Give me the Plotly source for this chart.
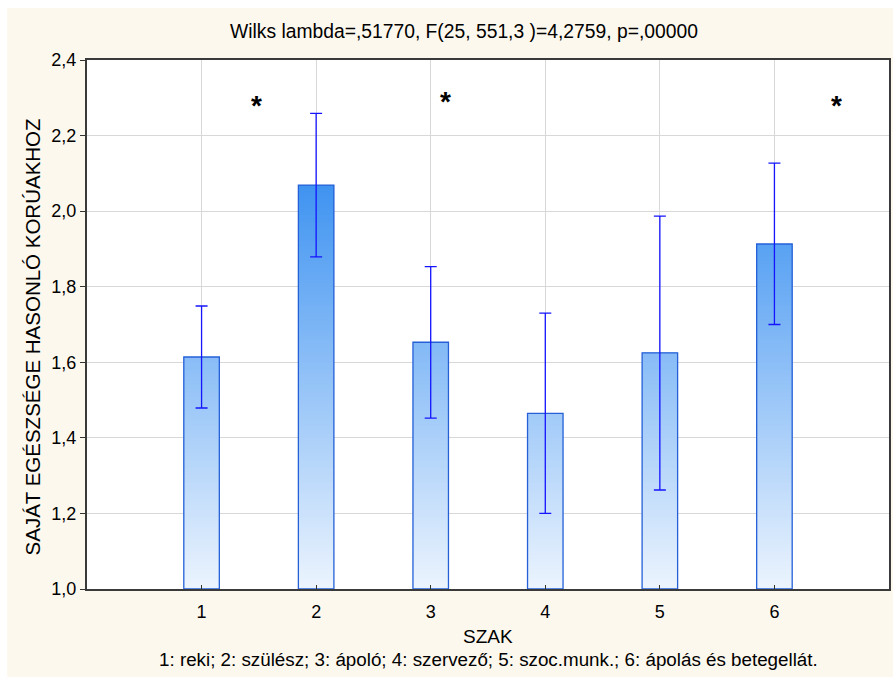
import plotly.graph_objects as go
import numpy as np

# ---- data ----
categories = [1, 2, 3, 4, 5, 6]
means = [1.614, 2.069, 1.653, 1.465, 1.625, 1.913]
ci_upper = [1.749, 2.259, 1.853, 1.730, 1.987, 2.127]
ci_lower = [1.479, 1.879, 1.452, 1.200, 1.262, 1.700]
y_ticks = [1.0, 1.2, 1.4, 1.6, 1.8, 2.0, 2.2, 2.4]
star_x = [1.48, 3.13, 6.54]
star_y = [2.28, 2.29, 2.28]

title_text = "Wilks lambda=,51770, F(25, 551,3 )=4,2759, p=,00000"
y_title = "SAJÁT EGÉSZSÉGE HASONLÓ KORÚAKHOZ"
x_title = "SZAK"
legend_text = "1: reki; 2: szülész; 3: ápoló; 4: szervező; 5: szoc.munk.; 6: ápolás és betegellát."

FONT = "Arial, Liberation Sans, sans-serif"
BAR_W = 0.31
Y0, Y1 = 1.0, 2.4

def grad_color(level):
    lo = np.array([236, 244, 254])
    hi = np.array([50, 140, 240])
    t = (level - 1.0) / (2.15 - 1.0)
    t = min(max(t, 0), 1)
    c = lo + (hi - lo) * t
    return "rgb(%d,%d,%d)" % tuple(c.round().astype(int))

fig = go.Figure()

# gradient fill via overlapping thin slices (later slices cover earlier overlap)
step = 0.01
levels = np.arange(Y0, Y1, step)
for lv in levels:
    heights = [max(0.0, min(3 * step, m - lv)) for m in means]
    if max(heights) <= 0:
        continue
    fig.add_trace(go.Bar(
        x=categories, y=heights, base=[lv] * len(categories),
        width=BAR_W, marker=dict(color=grad_color(lv + step / 2), line=dict(width=0)),
        showlegend=False, hoverinfo="skip"))

# outline + error bars
err_plus = [u - m for u, m in zip(ci_upper, means)]
err_minus = [m - l for m, l in zip(means, ci_lower)]
fig.add_trace(go.Bar(
    x=categories, y=[m - Y0 for m in means], base=[Y0] * len(categories),
    width=BAR_W,
    marker=dict(color="rgba(0,0,0,0)", line=dict(color="#2560d8", width=1.3)),
    showlegend=False))
fig.add_trace(go.Scatter(
    x=categories, y=means, mode="markers",
    marker=dict(size=1, color="rgba(0,0,0,0)"),
    error_y=dict(type="data", symmetric=False, array=err_plus, arrayminus=err_minus,
                 color="#1414ff", thickness=1.3, width=6),
    showlegend=False))

fig.update_layout(
    width=893, height=677,
    margin=dict(l=87, r=2, t=60, b=88),
    paper_bgcolor="#fdf8ee", plot_bgcolor="white",
    barmode="overlay", separators=",.",
    font=dict(family=FONT, size=18, color="black"),
    showlegend=False,
)
fig.update_xaxes(
    range=[0, 7], tickvals=categories, ticktext=[str(c) for c in categories],
    showgrid=True, gridcolor="#d8d8d8", gridwidth=1,
    ticks="inside", ticklen=4, tickcolor="#333",
    showline=True, linecolor="#3a3a3a", linewidth=2, mirror=True,
    zeroline=False, ticklabelstandoff=5,
    tickfont=dict(size=18, family=FONT))
fig.update_yaxes(
    range=[Y0, Y1], tickvals=y_ticks, tickformat=".1f",
    showgrid=True, gridcolor="#d8d8d8", gridwidth=1,
    ticks="outside", ticklen=5, tickcolor="#333",
    showline=True, linecolor="#3a3a3a", linewidth=2, mirror=True,
    zeroline=False, tickfont=dict(size=18, family=FONT))

ann = []
ann.append(dict(text=title_text, xref="paper", yref="paper", x=0.470, y=1.053,
                xanchor="center", yanchor="middle", showarrow=False,
                font=dict(size=19.3, family=FONT)))
ann.append(dict(text=y_title, xref="paper", yref="paper", x=-0.068, y=(589 - 337) / 529,
                xanchor="center", yanchor="middle", textangle=-90, showarrow=False,
                font=dict(size=20.5, family=FONT)))
ann.append(dict(text=x_title, xref="paper", yref="paper", x=0.5, y=(589 - 636) / 529,
                xanchor="center", yanchor="middle", showarrow=False,
                font=dict(size=19, family=FONT)))
ann.append(dict(text=legend_text, xref="paper", yref="paper", x=0.5, y=(589 - 659) / 529,
                xanchor="center", yanchor="middle", showarrow=False,
                font=dict(size=18.8, family=FONT)))
for sx, sy in zip(star_x, star_y):
    ann.append(dict(text="<b>*</b>", x=sx, y=sy, xref="x", yref="y", showarrow=False,
                    xanchor="center", yanchor="middle",
                    font=dict(size=28, family=FONT, color="black")))
fig.update_layout(annotations=ann)

# white strips at top/left outside the cream panel
fig.add_shape(type="rect", xref="paper", yref="paper",
              x0=-0.2, x1=1.1, y0=(589 - 8) / 529, y1=1.2,
              fillcolor="white", line=dict(width=0), layer="below")
fig.add_shape(type="rect", xref="paper", yref="paper",
              x0=-0.2, x1=(7 - 87) / 804, y0=-0.3, y1=1.2,
              fillcolor="white", line=dict(width=0), layer="below")

fig.write_html("out.html")
